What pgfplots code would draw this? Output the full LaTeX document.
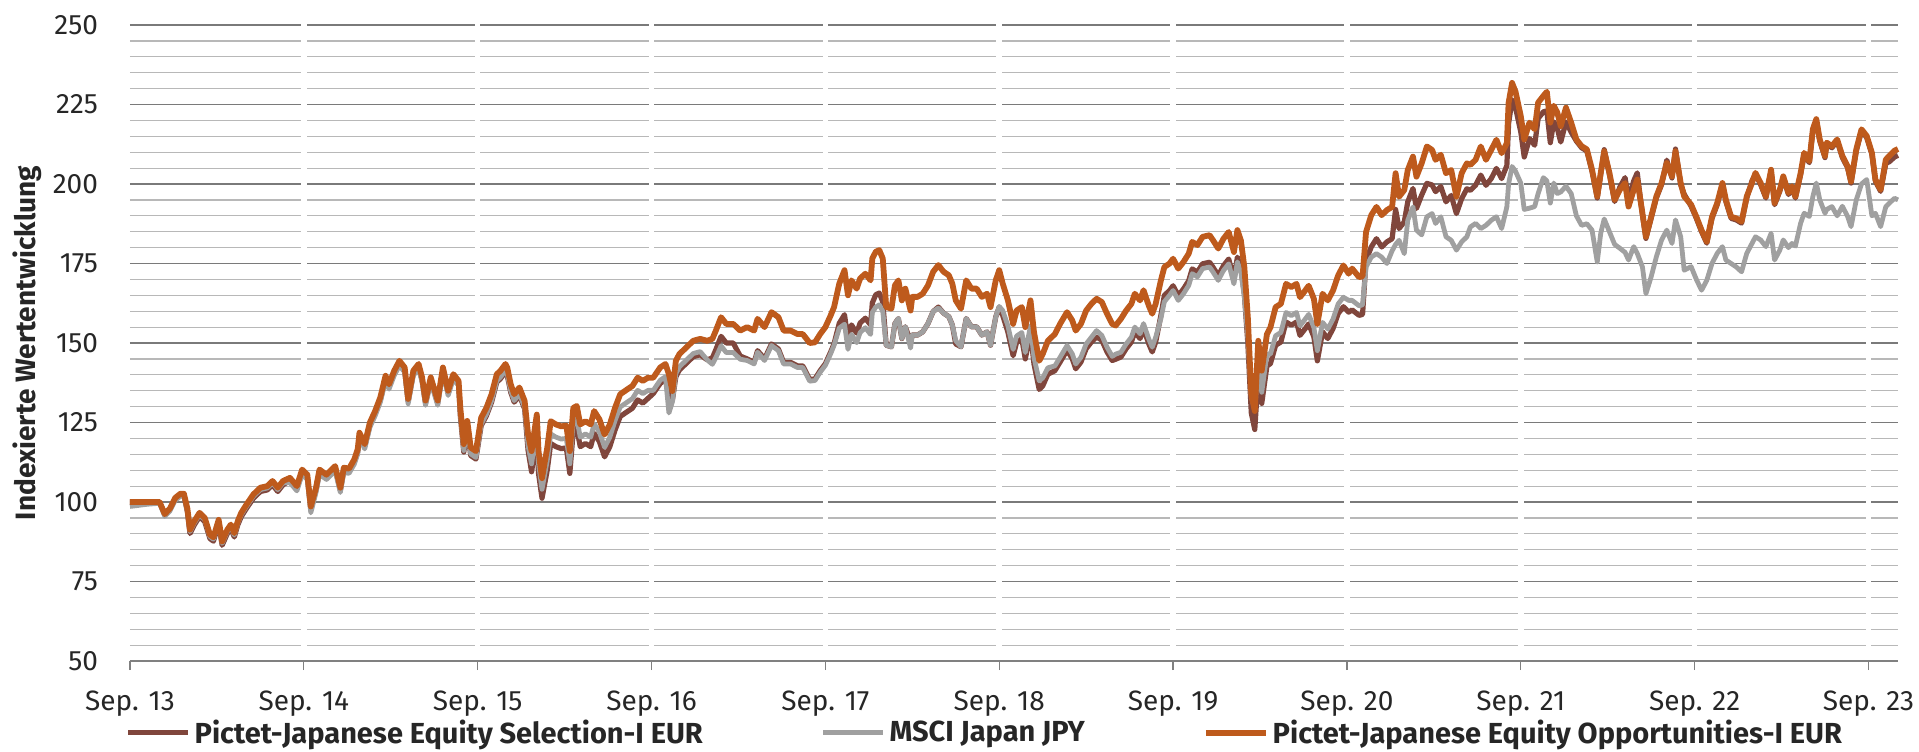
\documentclass[border=0pt]{standalone}
\usepackage{fontspec}
\setmainfont{Fira Sans}
\usepackage{pgfplots}
\usepackage{pgfplotstable}
\pgfplotsset{compat=1.18}
\definecolor{selc}{RGB}{128,70,60}
\definecolor{msci}{RGB}{160,160,160}
\definecolor{oppc}{RGB}{190,90,28}
\pgfplotstableread{
t o b g
0.00 100.0 100.0 98.6
0.10 100.0 100.0 99.3
0.17 100.0 100.0 99.6
0.20 96.2 96.0 95.5
0.23 98.0 97.8 97.2
0.26 101.3 101.0 100.5
0.29 102.6 102.3 101.8
0.31 102.6 102.0 101.9
0.33 98.0 97.0 97.4
0.345 91.3 90.1 90.7
0.37 94.0 92.8 93.4
0.40 96.6 95.4 96.0
0.43 95.0 93.8 94.4
0.46 89.7 88.5 89.1
0.48 88.9 87.7 88.3
0.51 94.4 93.2 93.8
0.53 87.6 86.4 87.0
0.56 91.3 90.1 90.7
0.58 92.9 91.7 92.3
0.60 90.2 89.0 89.6
0.62 94.0 92.8 93.4
0.64 96.6 95.4 96.0
0.67 99.2 98.0 98.6
0.71 102.4 101.2 101.8
0.75 104.5 103.3 103.9
0.79 105.0 103.8 104.4
0.82 106.6 105.4 106.0
0.85 104.5 103.3 103.9
0.88 106.6 105.4 106.0
0.92 107.6 106.8 106.1
0.96 105.0 104.2 103.5
0.99 110.2 109.4 108.7
1.02 108.6 107.8 107.1
1.04 98.6 97.8 96.6
1.07 104.5 103.7 103.0
1.09 110.2 109.4 108.7
1.13 108.6 107.8 107.1
1.18 111.3 110.5 109.8
1.21 104.5 103.7 103.0
1.23 110.8 110.0 109.3
1.26 110.5 109.7 109.0
1.29 113.4 112.6 111.9
1.31 116.6 115.8 115.1
1.32 121.8 121.0 120.3
1.35 118.2 117.4 116.7
1.38 125.0 124.2 123.5
1.41 128.6 127.8 127.1
1.44 132.9 132.1 131.4
1.47 139.7 138.9 138.2
1.49 137.0 136.2 135.5
1.52 141.3 140.5 139.8
1.55 144.4 143.6 142.9
1.58 142.3 141.5 140.8
1.60 132.4 131.6 130.9
1.63 141.3 140.5 139.8
1.66 143.4 142.6 141.9
1.68 139.2 138.4 137.7
1.70 131.9 131.1 130.4
1.73 139.2 138.4 137.7
1.77 131.9 131.1 130.4
1.80 142.3 141.5 140.8
1.83 135.0 134.2 133.5
1.86 140.2 139.4 138.7
1.89 138.1 137.3 136.6
1.90 129.7 127.2 127.7
1.92 118.2 115.7 116.2
1.94 125.5 123.0 123.5
1.96 117.1 114.6 115.1
1.99 116.0 113.5 114.0
2.02 126.5 124.0 124.5
2.05 129.6 127.1 127.6
2.08 133.9 131.4 131.9
2.11 140.2 137.7 138.2
2.13 141.2 138.7 139.2
2.16 143.4 140.9 141.4
2.17 142.3 139.8 140.3
2.19 137.0 134.5 135.0
2.21 133.9 131.4 131.9
2.24 136.0 133.5 134.0
2.27 131.8 129.3 129.8
2.29 121.2 116.2 117.7
2.31 116.0 109.5 112.0
2.34 127.5 120.5 123.5
2.35 116.0 109.0 112.0
2.37 107.5 101.2 104.0
2.40 117.0 110.0 113.0
2.42 125.4 118.4 121.4
2.45 124.4 117.4 120.4
2.48 123.8 116.8 119.8
2.51 124.0 117.0 120.0
2.53 116.0 109.0 112.0
2.55 129.6 122.6 125.6
2.57 130.2 123.2 126.2
2.59 124.4 117.4 120.4
2.62 125.4 118.4 121.4
2.65 124.4 117.4 120.4
2.67 128.6 121.6 124.6
2.70 126.0 119.0 122.0
2.73 121.2 114.2 117.2
2.76 124.4 117.4 120.4
2.79 129.6 122.6 125.6
2.82 133.9 126.9 129.9
2.86 135.4 128.4 131.4
2.89 136.5 129.5 132.5
2.92 139.1 132.1 135.1
2.95 138.1 131.1 134.1
2.98 139.1 132.6 135.1
3.01 139.1 134.1 135.1
3.05 142.3 137.3 138.3
3.08 143.4 138.4 139.4
3.10 140.2 135.2 128.0
3.12 134.9 132.0 131.5
3.14 144.4 139.4 140.4
3.16 146.5 141.5 142.5
3.20 148.6 143.6 144.6
3.24 150.7 145.7 146.7
3.28 151.3 146.3 147.3
3.32 150.7 144.7 144.7
3.35 151.3 145.3 143.3
3.37 153.9 147.9 145.4
3.40 158.1 152.1 149.1
3.43 156.0 150.0 147.0
3.47 156.0 150.0 147.0
3.51 153.9 145.9 144.9
3.55 155.0 145.0 144.5
3.59 153.9 143.9 143.4
3.61 157.6 147.6 147.1
3.65 155.0 145.0 144.5
3.69 159.7 149.7 149.2
3.73 158.1 148.1 147.6
3.76 153.9 143.9 143.4
3.80 153.9 143.9 143.4
3.84 152.8 142.8 142.3
3.87 152.8 142.8 142.3
3.91 150.0 138.5 138.0
3.94 150.2 138.7 138.2
3.97 152.8 141.3 140.8
4.00 155.0 143.5 143.0
4.03 158.6 147.1 146.6
4.05 161.3 149.8 149.3
4.08 168.7 156.2 154.7
4.11 172.9 158.9 155.9
4.13 165.0 151.0 148.0
4.15 169.7 155.7 152.7
4.18 167.1 153.1 150.1
4.20 170.3 156.3 153.3
4.23 171.8 157.8 154.8
4.26 169.7 155.7 152.7
4.27 176.6 162.6 159.6
4.29 178.7 165.2 161.3
4.31 179.2 165.7 162.0
4.33 176.6 163.0 160.0
4.35 161.3 149.3 149.3
4.38 160.8 148.8 148.8
4.40 168.1 156.1 156.1
4.42 169.7 157.7 157.7
4.44 163.4 151.4 151.4
4.46 167.1 155.1 155.1
4.49 160.2 150.2 148.4
4.50 164.5 152.5 152.5
4.53 164.5 152.5 152.5
4.56 165.5 153.5 153.5
4.59 168.1 156.1 156.1
4.62 172.4 159.9 159.9
4.65 174.5 161.3 161.0
4.68 172.4 159.4 159.4
4.71 171.3 158.3 158.3
4.73 168.7 155.7 155.7
4.75 163.4 149.7 150.7
4.78 160.8 148.8 148.8
4.81 169.7 157.7 157.7
4.84 167.1 155.1 155.1
4.87 167.1 155.1 155.1
4.90 164.5 152.5 152.5
4.93 165.5 153.5 153.5
4.95 161.3 149.3 149.3
4.98 169.7 158.2 158.2
5.00 172.9 161.3 161.5
5.02 168.7 158.7 160.2
5.05 163.4 153.4 155.4
5.08 156.0 146.0 148.0
5.10 160.2 150.2 152.2
5.13 161.3 151.3 153.3
5.15 155.0 145.0 147.0
5.18 163.4 153.4 155.4
5.20 153.4 143.4 145.4
5.23 144.4 135.4 138.1
5.25 146.5 136.5 139.0
5.28 150.7 140.2 142.2
5.32 152.8 141.3 142.8
5.35 156.0 144.0 145.5
5.39 159.7 147.7 149.2
5.42 157.1 145.1 146.6
5.44 153.9 141.9 143.4
5.47 156.0 144.0 145.5
5.50 160.2 148.2 149.7
5.53 162.3 150.3 151.8
5.56 163.9 151.9 153.9
5.59 162.9 150.9 152.4
5.62 159.2 147.2 148.7
5.65 156.0 144.5 145.8
5.67 155.5 144.9 146.5
5.70 157.6 145.6 147.1
5.73 160.2 148.2 149.7
5.76 162.3 150.3 151.8
5.78 165.5 153.5 155.0
5.81 163.4 151.4 152.9
5.83 166.6 154.6 156.1
5.86 161.8 149.8 151.3
5.88 159.2 147.2 148.7
5.90 162.3 150.3 151.8
5.93 169.7 158.7 157.7
5.95 173.9 165.0 163.0
5.98 175.0 166.5 165.0
6.00 176.5 168.0 166.5
6.03 173.4 164.9 163.4
6.06 175.5 167.0 165.5
6.09 178.1 169.6 168.1
6.11 181.8 173.3 171.8
6.14 180.8 172.3 170.8
6.17 183.4 174.9 173.4
6.21 183.9 175.4 173.9
6.23 182.3 173.8 172.3
6.26 179.7 171.2 169.7
6.29 182.8 174.3 172.8
6.32 184.9 176.4 174.9
6.35 178.6 170.1 168.6
6.37 185.5 177.0 175.5
6.39 182.3 173.8 172.3
6.41 173.9 165.4 164.5
6.43 158.1 150.0 152.0
6.45 133.9 128.0 133.0
6.47 128.6 122.8 129.2
6.49 150.7 140.0 144.0
6.51 141.3 131.0 134.5
6.54 152.8 142.8 146.5
6.56 154.9 143.5 146.5
6.59 161.3 149.3 152.3
6.62 162.3 150.3 153.3
6.65 168.6 156.6 159.6
6.68 167.6 155.6 158.6
6.71 168.6 156.6 159.6
6.73 164.4 152.4 155.4
6.76 166.5 154.5 157.5
6.78 168.0 156.0 159.0
6.81 163.9 151.9 154.9
6.83 156.0 144.4 147.6
6.86 165.5 153.5 156.5
6.89 163.4 151.4 154.4
6.92 166.5 154.5 157.5
6.95 171.3 159.3 162.3
6.98 174.4 161.4 164.4
7.01 171.8 159.7 163.4
7.03 173.4 160.4 163.4
7.07 170.7 158.7 161.7
7.09 171.0 159.0 162.0
7.11 184.9 176.0 173.9
7.14 190.2 180.2 177.0
7.17 192.8 182.8 178.1
7.20 190.2 180.2 177.0
7.23 191.8 181.8 175.0
7.26 192.8 182.8 179.0
7.28 203.4 192.0 181.0
7.30 196.0 186.0 182.3
7.33 198.1 188.1 178.1
7.35 204.4 194.4 188.6
7.38 208.6 198.6 192.8
7.40 202.3 192.3 185.5
7.43 206.5 196.5 184.0
7.46 211.8 200.2 189.7
7.49 210.7 199.7 190.7
7.51 207.6 197.6 187.6
7.54 209.2 199.2 189.7
7.57 203.4 194.4 183.4
7.60 204.4 196.4 182.3
7.63 196.0 190.7 179.2
7.66 203.4 195.4 181.8
7.69 206.5 198.5 183.4
7.71 206.0 198.0 186.5
7.74 207.6 199.6 187.6
7.77 211.8 202.8 186.0
7.80 207.6 199.6 187.0
7.83 210.7 201.7 188.6
7.86 213.9 204.9 189.7
7.89 209.7 201.7 186.0
7.92 212.8 205.8 192.8
7.93 225.5 219.0 200.0
7.95 231.8 226.5 205.5
7.97 229.0 224.0 204.0
8.00 221.4 216.4 200.3
8.02 214.0 208.5 192.0
8.05 219.3 214.3 192.4
8.08 217.2 212.2 192.9
8.10 225.6 220.6 197.0
8.13 227.7 222.7 202.0
8.15 229.0 223.0 201.0
8.17 219.3 213.0 194.0
8.19 224.6 219.6 200.3
8.21 222.5 217.5 197.0
8.23 218.2 213.2 197.5
8.26 224.0 219.5 199.3
8.29 219.3 216.3 197.0
8.32 214.0 213.5 190.0
8.35 211.9 211.4 187.0
8.38 210.9 210.4 187.5
8.41 204.5 204.0 185.5
8.44 196.1 195.6 175.5
8.46 203.5 203.0 184.5
8.48 210.3 210.8 189.0
8.51 203.5 203.0 185.0
8.54 195.0 194.5 181.0
8.57 198.2 199.0 179.8
8.60 200.3 202.0 178.5
8.62 192.9 195.0 176.1
8.65 198.2 201.0 180.3
8.67 201.4 203.5 178.2
8.70 190.8 190.3 173.9
8.72 183.4 182.9 165.5
8.75 189.7 189.2 170.8
8.78 196.1 195.6 177.1
8.81 200.3 199.8 182.4
8.84 206.6 207.5 185.5
8.87 202.4 201.9 181.3
8.89 210.3 211.0 188.7
8.92 200.3 199.8 183.4
8.94 196.1 196.8 172.9
8.98 193.5 193.0 174.0
9.01 189.7 189.2 170.0
9.04 185.5 185.0 166.6
9.07 181.9 181.4 169.7
9.10 189.7 189.2 175.0
9.13 194.0 193.5 178.2
9.16 200.3 199.8 180.3
9.18 195.0 194.5 176.1
9.21 189.7 189.2 175.0
9.24 189.2 188.7 173.9
9.27 188.2 187.7 172.4
9.30 196.1 195.6 178.2
9.33 200.3 201.0 181.3
9.35 203.5 203.0 183.4
9.38 200.3 199.8 182.4
9.41 196.1 195.6 180.3
9.44 204.5 204.0 184.5
9.46 194.0 193.5 176.1
9.49 198.2 197.7 179.2
9.51 202.4 201.9 182.4
9.54 197.2 196.7 180.0
9.56 199.3 198.8 181.3
9.58 196.1 195.6 180.5
9.61 203.5 203.0 187.7
9.63 209.8 209.3 190.8
9.66 207.2 206.7 189.8
9.68 217.2 216.7 196.0
9.70 220.4 219.9 200.3
9.72 214.0 213.5 195.0
9.75 208.8 208.3 190.8
9.76 213.0 212.5 192.0
9.79 211.9 211.4 192.9
9.82 214.0 213.5 190.0
9.85 208.8 208.3 193.0
9.88 205.6 205.1 189.8
9.90 200.8 200.3 186.6
9.93 210.9 210.4 195.0
9.96 217.2 216.7 200.0
9.99 215.1 214.6 201.4
10.02 209.8 209.3 190.0
10.04 201.4 200.9 190.8
10.07 198.2 197.7 186.6
10.10 207.7 206.5 192.9
10.12 208.8 207.0 194.0
10.15 210.5 208.5 195.5
10.17 211.0 209.0 195.0
}\perfdata
\begin{document}
\begin{tikzpicture}
\useasboundingbox (-65pt,-45pt) rectangle (894.5pt,330.5pt);
\begin{axis}[
  at={(0pt,0pt)}, anchor=south west,
  scale only axis,
  width=884pt, height=318pt,
  xmin=0, xmax=10.17, ymin=50, ymax=250,
  clip=false,
  axis lines*=left,
  axis line style={-},
  x axis line style={draw=black!50, line width=0.7pt},
  y axis line style={draw=none},
  xtick={0,1,2,3,4,5,6,7,8,9,10},
  xticklabels={Sep. 13,Sep. 14,Sep. 15,Sep. 16,Sep. 17,Sep. 18,Sep. 19,Sep. 20,Sep. 21,Sep. 22,Sep. 23},
  ytick={50,75,100,125,150,175,200,225,250},
  minor y tick num=4,
  tick align=outside,
  major tick length=4.5pt,
  xtick style={draw=black!50, line width=0.6pt},
  ytick style={draw=none},
  minor tick style={draw=none},
  ymajorgrids, yminorgrids,
  major grid style={draw=black!52, line width=0.6pt},
  minor grid style={draw=black!28, line width=0.6pt},
  /pgf/number format/assume math mode=true,
  tick label style={font=\fontsize{14}{16}\selectfont, text=black!85},
  xticklabel style={anchor=base, yshift=-20pt},
  yticklabel style={anchor=east, xshift=-8pt},
  every axis y label/.style={at={([xshift=-51.5pt]axis description cs:0,0.5)}, rotate=90, anchor=center},
  ylabel={Indexierte Wertentwicklung},
  ylabel style={font=\fontsize{14}{16}\selectfont\bfseries, text=black!85},
  legend columns=3,
  legend cell align=left,
  legend style={draw=none, fill=none, at={(0.484,-0.113)}, anchor=center,
    font=\fontsize{14.5}{16}\selectfont\bfseries, text=black!85,
    /tikz/every even column/.append style={column sep=57pt}},
  legend image code/.code={\draw[#1] (0pt,0pt) -- (30pt,0pt);},
]
\pgfplotsinvokeforeach{1,2,3,4,5,6,7,8,9,10}{
  \draw[white, line width=2.8pt] (axis cs:#1,50.5) -- (axis cs:#1,251);
}
\addplot[selc, line width=2.6pt, line join=round] table[x=t, y=b] {\perfdata};
\addlegendentry{Pictet-Japanese Equity Selection-I EUR}
\addplot[msci, line width=2.4pt, line join=round] table[x=t, y=g] {\perfdata};
\addlegendentry{MSCI Japan JPY}
\addplot[oppc, line width=2.9pt, line join=round] table[x=t, y=o] {\perfdata};
\addlegendentry{Pictet-Japanese Equity Opportunities-I EUR}
\end{axis}
\end{tikzpicture}
\end{document}
